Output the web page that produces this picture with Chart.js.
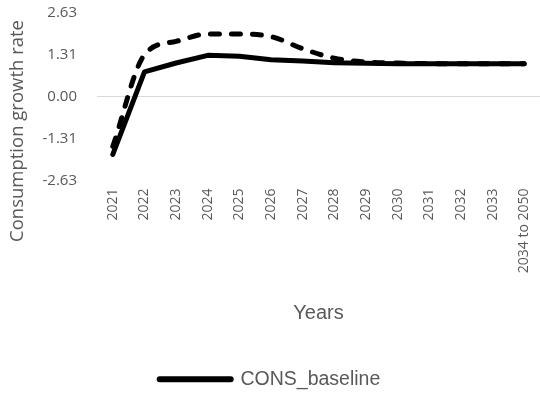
<!DOCTYPE html>
<html>
<head>
<meta charset="utf-8">
<script src="https://cdn.jsdelivr.net/npm/chart.js@4/dist/chart.umd.min.js"></script>
<style>
  html, body { margin: 0; padding: 0; background: #fff; }
  #wrap { width: 540px; height: 396px; }
</style>
</head>
<body>
<div id="wrap"><canvas id="c" width="540" height="396"></canvas></div>
<script>
// Consumption growth rate by year
const years = ['2021', '2022', '2023', '2024', '2025', '2026', '2027', '2028', '2029', '2030', '2031', '2032', '2033', '2034 to 2050'];
const consBaseline = [-1.81, 0.78, 1.06, 1.30, 1.27, 1.16, 1.12, 1.07, 1.05, 1.04, 1.04, 1.04, 1.04, 1.04];
const consShock = [-1.56, 1.32, 1.74, 1.97, 1.97, 1.89, 1.51, 1.21, 1.09, 1.06, 1.04, 1.04, 1.04, 1.04];
const yTicks = [-2.63, -1.31, 0.00, 1.31, 2.63];

const textGrey = '#595959';

// Axis titles placed where they sit in the layout
const axisTitles = {
  id: 'axisTitles',
  afterDraw(chart) {
    const ctx = chart.ctx;
    ctx.save();
    ctx.fillStyle = textGrey;
    ctx.textAlign = 'center';
    ctx.textBaseline = 'middle';
    ctx.font = '18.5px "Open Sans"';
    ctx.translate(18, 131);
    ctx.rotate(-Math.PI / 2);
    ctx.fillText('Consumption growth rate', 0, 0);
    ctx.restore();

    ctx.save();
    ctx.fillStyle = textGrey;
    ctx.textAlign = 'center';
    ctx.textBaseline = 'middle';
    ctx.font = '20px "Liberation Sans"';
    ctx.fillText('Years', 318.5, 313);
    ctx.restore();
  }
};

new Chart(document.getElementById('c'), {
  type: 'line',
  data: {
    labels: years,
    datasets: [
      {
        label: 'CONS_baseline',
        data: consBaseline,
        borderColor: '#000',
        backgroundColor: '#000',
        borderWidth: 5,
        borderCapStyle: 'round',
        borderJoinStyle: 'round',
        pointRadius: 0,
        tension: 0
      },
      {
        label: 'CONS_shock',
        data: consShock,
        borderColor: '#000',
        backgroundColor: '#000',
        borderWidth: 5,
        borderDash: [9, 12],
        borderCapStyle: 'round',
        pointRadius: 0,
        cubicInterpolationMode: 'monotone'
      }
    ]
  },
  options: {
    responsive: false,
    animation: false,
    layout: { padding: { top: 13, right: 0, bottom: -3, left: 0 } },
    plugins: {
      tooltip: { enabled: false },
      legend: {
        position: 'bottom',
        labels: {
          usePointStyle: true,
          pointStyleWidth: 71,
          padding: 10,
          color: textGrey,
          font: { family: 'Liberation Sans', size: 19.5 },
          generateLabels(chart) {
            return [{
              text: chart.data.datasets[0].label,
              fillStyle: '#000',
              strokeStyle: '#000',
              lineWidth: 6,
              lineCap: 'round',
              pointStyle: 'line',
              fontColor: textGrey,
              datasetIndex: 0,
              hidden: false
            }];
          }
        }
      }
    },
    scales: {
      x: {
        offset: true,
        grid: { display: false, drawTicks: false },
        border: { display: false },
        ticks: {
          color: textGrey,
          font: { family: 'Open Sans', size: 14 },
          maxRotation: 90,
          minRotation: 90,
          padding: 8,
          autoSkip: false
        },
        afterFit(scale) {
          scale.height = 179;
          scale.paddingLeft = 0;
          scale.paddingRight = 0;
        }
      },
      y: {
        min: -2.63,
        max: 2.63,
        afterBuildTicks(scale) { scale.ticks = yTicks.map(v => ({ value: v })); },
        afterFit(scale) {
          scale.width = 97;
          scale.paddingTop = 0;
          scale.paddingBottom = 0;
        },
        grid: {
          drawTicks: false,
          color: ctx => (ctx.tick && ctx.tick.value === 0 ? '#d9d9d9' : 'rgba(0,0,0,0)'),
          lineWidth: 1
        },
        border: { display: false },
        ticks: {
          color: textGrey,
          font: { family: 'Open Sans', size: 15 },
          padding: 20,
          callback: v => Number(v).toFixed(2)
        }
      }
    }
  },
  plugins: [axisTitles]
});
</script>
</body>
</html>
